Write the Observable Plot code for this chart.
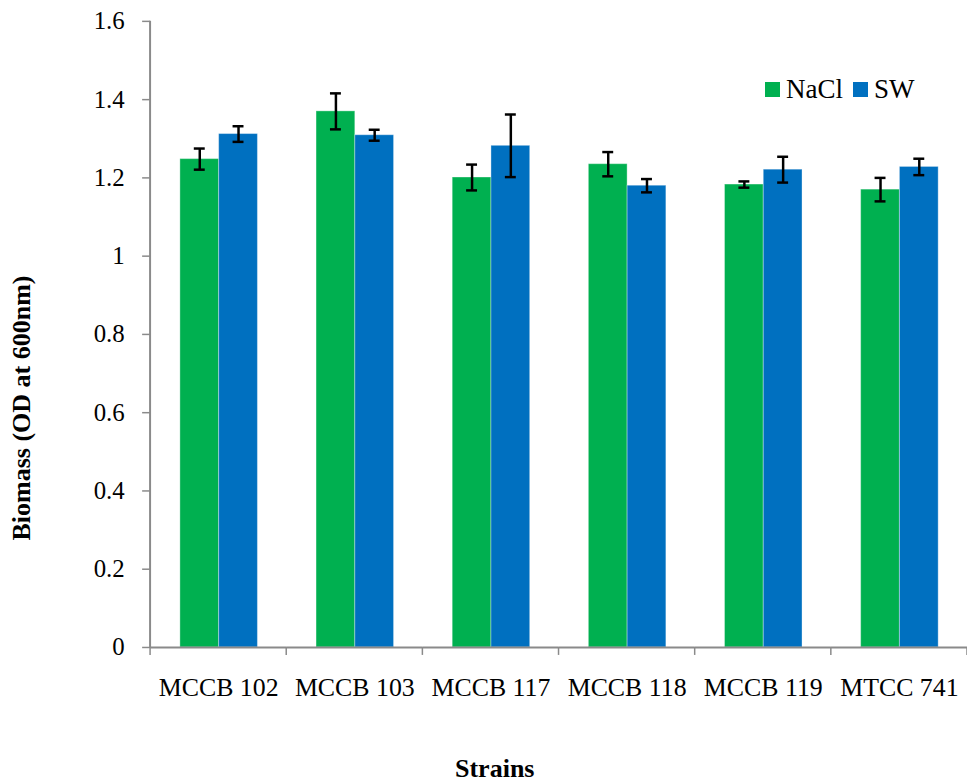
<!DOCTYPE html>
<html>
<head>
<meta charset="utf-8">
<script src="https://cdn.jsdelivr.net/npm/d3@7"></script>
<script src="https://cdn.jsdelivr.net/npm/@observablehq/plot@0.6"></script>
<style>
  html, body { margin: 0; padding: 0; background: #fff; overflow: hidden; }
  #wrap { position: relative; width: 967px; height: 783px; overflow: hidden; font-family: "Liberation Serif", serif; }
  #chart { position: absolute; left: 0; top: 0; }
  .legend { position: absolute; left: 765px; top: 74px; font-size: 27px; display: flex; align-items: center; color: #000; }
  .legend .sw { width: 15px; height: 15px; display: inline-block; margin-right: 6px; }
  .legend .item { display: flex; align-items: center; margin-right: 10px; }
  .xtitle { position: absolute; left: 455px; top: 754px; font-weight: bold; font-size: 26px; }
  .ytitle { position: absolute; left: 22px; top: 408px; font-weight: bold; font-size: 26px; white-space: nowrap;
            transform: translate(-50%, -50%) rotate(-90deg); }
</style>
</head>
<body>
<div id="wrap">
  <div id="chart"></div>
  <div class="legend" id="legend"></div>
  <div class="xtitle">Strains</div>
  <div class="ytitle">Biomass (OD at 600nm)</div>
</div>
<script>
const strains = ["MCCB 102", "MCCB 103", "MCCB 117", "MCCB 118", "MCCB 119", "MTCC 741"];
const series = ["NaCl", "SW"];
const naclMean = [1.248, 1.370, 1.201, 1.235, 1.183, 1.170];
const naclErr  = [0.027, 0.046, 0.033, 0.031, 0.008, 0.030];
const swMean   = [1.312, 1.309, 1.282, 1.180, 1.221, 1.228];
const swErr    = [0.020, 0.014, 0.080, 0.017, 0.033, 0.021];
const seriesColors = ["#00B050", "#0070C0"];
const yTicks = [0, 0.2, 0.4, 0.6, 0.8, 1, 1.2, 1.4, 1.6];

const rows = [];
strains.forEach((s, i) => {
  rows.push({strain: s, series: "NaCl", value: naclMean[i], lo: naclMean[i] - naclErr[i], hi: naclMean[i] + naclErr[i]});
  rows.push({strain: s, series: "SW", value: swMean[i], lo: swMean[i] - swErr[i], hi: swMean[i] + swErr[i]});
});

const axisGray = "#8a8a8a";

const plot = Plot.plot({
  width: 973,
  height: 783,
  marginLeft: 151,
  marginRight: 0,
  marginTop: 21,
  marginBottom: 132,
  style: {fontFamily: "'Liberation Serif', serif", fontSize: "25px", color: "#000", background: "transparent"},
  fx: {domain: strains, padding: 0, label: null},
  x: {domain: series, paddingInner: 0, paddingOuter: 0.74, axis: null},
  y: {domain: [0, 1.6], label: null},
  color: {domain: series, range: seriesColors},
  marks: [
    Plot.barY(rows, {fx: "strain", x: "series", y: "value", fill: "series", stroke: "#ffffff", strokeOpacity: 0.35, strokeWidth: 1}),
    Plot.ruleX(rows, {fx: "strain", x: "series", y1: "lo", y2: "hi", stroke: "#000", strokeWidth: 2.5}),
    Plot.tickY(rows, {fx: "strain", x: "series", y: "hi", stroke: "#000", strokeWidth: 2.5, insetLeft: 14, insetRight: 14}),
    Plot.tickY(rows, {fx: "strain", x: "series", y: "lo", stroke: "#000", strokeWidth: 2.5, insetLeft: 14, insetRight: 14}),
    Plot.ruleY([0], {stroke: axisGray, strokeWidth: 2}),
    Plot.axisY({ticks: yTicks, tickSize: 8, tickPadding: 18, stroke: axisGray, strokeWidth: 1.5, fill: "#000",
                tickFormat: d => String(+d.toFixed(1)), label: null}),
    Plot.axisFx({anchor: "bottom", tickSize: 0, tickPadding: 30, fontSize: 26, label: null, fill: "#000"})
  ]
});
document.getElementById("chart").appendChild(plot);

// Excel-style axis line and category-boundary ticks, placed through Plot's own scales
const fx = plot.scale("fx");
const ys = plot.scale("y");
const svg = d3.select(plot);
const g = svg.append("g").attr("stroke", axisGray);
const x0 = fx.apply(strains[0]);
g.append("line").attr("x1", x0).attr("x2", x0).attr("y1", ys.apply(0)).attr("y2", ys.apply(1.6)).attr("stroke-width", 2);
const bounds = strains.map(s => fx.apply(s)).concat([fx.apply(strains[strains.length - 1]) + fx.bandwidth]);
bounds.forEach(b => {
  g.append("line").attr("x1", b).attr("x2", b).attr("y1", ys.apply(0)).attr("y2", ys.apply(0) + 8).attr("stroke-width", 1.5);
});

// legend
const leg = document.getElementById("legend");
series.forEach((s, i) => {
  const it = document.createElement("div");
  it.className = "item";
  it.innerHTML = `<span class="sw" style="background:${seriesColors[i]}"></span><span>${s}</span>`;
  leg.appendChild(it);
});
</script>
</body>
</html>
